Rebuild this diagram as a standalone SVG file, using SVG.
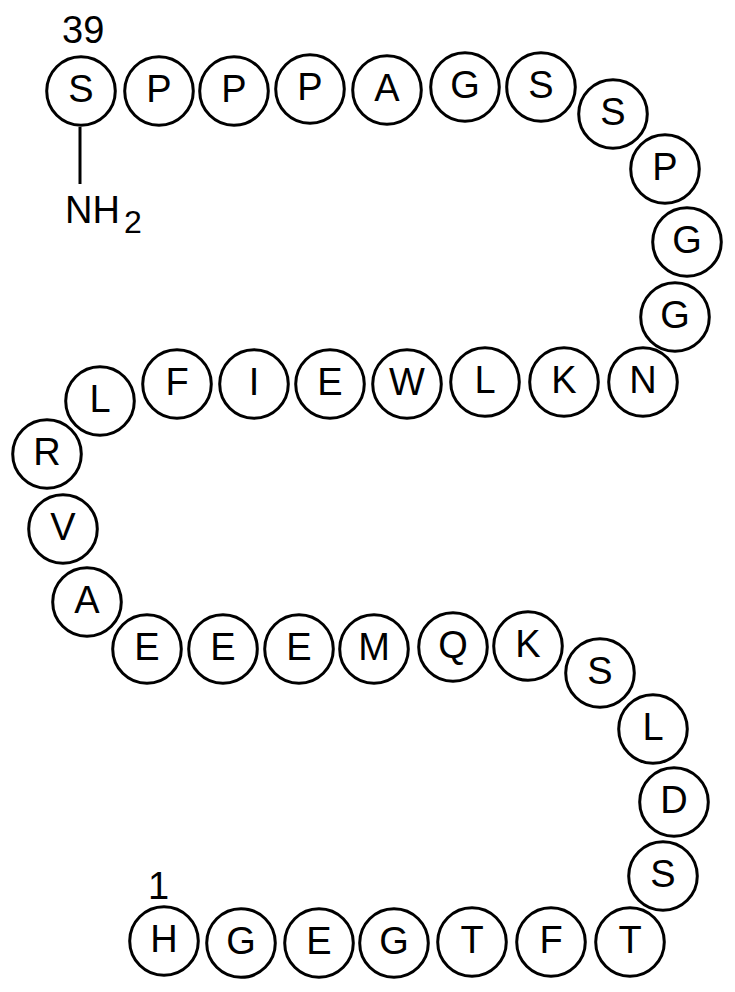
<svg xmlns="http://www.w3.org/2000/svg" width="735" height="992" viewBox="0 0 735 992">
<style>
circle{fill:#fff;stroke:#000;stroke-width:3}
text{font-family:"Liberation Sans",Arial,sans-serif;font-size:38px;fill:#000}
.r text{text-anchor:middle}
</style>
<rect width="735" height="992" fill="#fff"/>
<g id="connectors">
<line x1="80" y1="127" x2="80" y2="184" stroke="#000" stroke-width="3"/>
</g>
<g class="r">
<g id="n39"><circle cx="81" cy="91" r="34.3"/><text x="81" y="102">S</text></g>
<g id="n38"><circle cx="159" cy="91" r="34.3"/><text x="159" y="102">P</text></g>
<g id="n37"><circle cx="234" cy="91" r="34.3"/><text x="234" y="102">P</text></g>
<g id="n36"><circle cx="310" cy="89" r="34.3"/><text x="310" y="100">P</text></g>
<g id="n35"><circle cx="387" cy="90" r="34.3"/><text x="387" y="101">A</text></g>
<g id="n34"><circle cx="465" cy="87" r="34.3"/><text x="465" y="98">G</text></g>
<g id="n33"><circle cx="541" cy="87" r="34.3"/><text x="541" y="98">S</text></g>
<g id="n32"><circle cx="613" cy="114" r="34.3"/><text x="613" y="125">S</text></g>
<g id="n31"><circle cx="665" cy="169" r="34.3"/><text x="665" y="180">P</text></g>
<g id="n30"><circle cx="687" cy="242" r="34.3"/><text x="687" y="253">G</text></g>
<g id="n29"><circle cx="675" cy="317" r="34.3"/><text x="675" y="328">G</text></g>
<g id="n28"><circle cx="643" cy="382" r="34.3"/><text x="643" y="393">N</text></g>
<g id="n27"><circle cx="564" cy="382" r="34.3"/><text x="564" y="393">K</text></g>
<g id="n26"><circle cx="485" cy="382" r="34.3"/><text x="485" y="393">L</text></g>
<g id="n25"><circle cx="407" cy="384" r="34.3"/><text x="407" y="395">W</text></g>
<g id="n24"><circle cx="330" cy="384" r="34.3"/><text x="330" y="395">E</text></g>
<g id="n23"><circle cx="254" cy="384" r="34.3"/><text x="254" y="395">I</text></g>
<g id="n22"><circle cx="177" cy="384" r="34.3"/><text x="177" y="395">F</text></g>
<g id="n21"><circle cx="100" cy="401" r="34.3"/><text x="100" y="412">L</text></g>
<g id="n20"><circle cx="47" cy="454" r="34.3"/><text x="47" y="465">R</text></g>
<g id="n19"><circle cx="63" cy="529" r="34.3"/><text x="63" y="540">V</text></g>
<g id="n18"><circle cx="87" cy="602" r="34.3"/><text x="87" y="613">A</text></g>
<g id="n17"><circle cx="147" cy="649" r="34.3"/><text x="147" y="660">E</text></g>
<g id="n16"><circle cx="223" cy="649" r="34.3"/><text x="223" y="660">E</text></g>
<g id="n15"><circle cx="299" cy="649" r="34.3"/><text x="299" y="660">E</text></g>
<g id="n14"><circle cx="374" cy="649" r="34.3"/><text x="374" y="660">M</text></g>
<g id="n13"><circle cx="453" cy="647" r="34.3"/><text x="453" y="658">Q</text></g>
<g id="n12"><circle cx="528" cy="646" r="34.3"/><text x="528" y="657">K</text></g>
<g id="n11"><circle cx="600" cy="673" r="34.3"/><text x="600" y="684">S</text></g>
<g id="n10"><circle cx="653" cy="729" r="34.3"/><text x="653" y="740">L</text></g>
<g id="n9"><circle cx="674" cy="802" r="34.3"/><text x="674" y="813">D</text></g>
<g id="n8"><circle cx="663" cy="876" r="34.3"/><text x="663" y="887">S</text></g>
<g id="n7"><circle cx="630" cy="942" r="34.3"/><text x="630" y="953">T</text></g>
<g id="n6"><circle cx="551" cy="942" r="34.3"/><text x="551" y="953">F</text></g>
<g id="n5"><circle cx="472" cy="942" r="34.3"/><text x="472" y="953">T</text></g>
<g id="n4"><circle cx="394" cy="943" r="34.3"/><text x="394" y="954">G</text></g>
<g id="n3"><circle cx="319" cy="943" r="34.3"/><text x="319" y="954">E</text></g>
<g id="n2"><circle cx="241" cy="943" r="34.3"/><text x="241" y="954">G</text></g>
<g id="n1"><circle cx="164" cy="941" r="34.3"/><text x="164" y="952">H</text></g>
</g>
<g id="labels">
<text x="62" y="43">39</text>
<text x="148" y="899">1</text>
<text x="65" y="223">NH<tspan x="124" y="233" font-size="32">2</tspan></text>
</g>
</svg>
